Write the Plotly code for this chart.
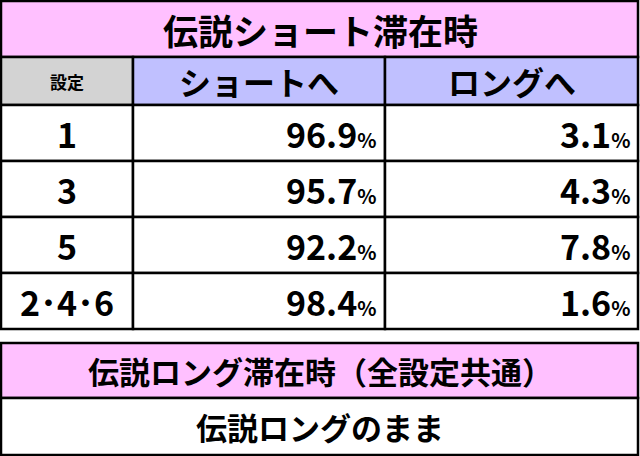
import plotly.graph_objects as go

title_top = "伝説ショート滞在時"
headers = ["設定", "ショートへ", "ロングへ"]
settings = ["1", "3", "5", "2･4･6"]
to_short = [96.9, 95.7, 92.2, 98.4]
to_long = [3.1, 4.3, 7.8, 1.6]
title_bottom = "伝説ロング滞在時（全設定共通）"
bottom_text = "伝説ロングのまま"

PINK = "#ffc0ff"
GRAY = "#d3d3d3"
LAV = "#c0c0ff"
FONT = "Noto Sans CJK JP"

cols = [1, 133, 385, 638]
rows = [1, 57, 105, 161, 217, 273, 329]
low = [343, 398, 455]

fig = go.Figure()
shapes = []
ann = []

def cell(x0, x1, y0, y1, fill):
    shapes.append(dict(type="rect", x0=x0, x1=x1, y0=y0, y1=y1, fillcolor=fill,
                       line=dict(color="black", width=2.5), layer="below"))

def text(x, y, s, size, anchor="center"):
    ann.append(dict(x=x, y=y, text=s, showarrow=False, xanchor=anchor, yanchor="middle",
                    font=dict(family=FONT, size=size, color="black", weight=900)))

cell(cols[0], cols[3], rows[0], rows[1], PINK)
text(320, 29, "<b>" + title_top + "</b>", 35)
for i, h in enumerate(headers):
    cell(cols[i], cols[i + 1], rows[1], rows[2], GRAY if i == 0 else LAV)
    text((cols[i] + cols[i + 1]) / 2, (rows[1] + rows[2]) / 2, "<b>" + h + "</b>", 17 if i == 0 else 32)

pct = "<span style='font-size:20px'>%</span>"
for r, (s, a, b) in enumerate(zip(settings, to_short, to_long)):
    y0, y1 = rows[r + 2], rows[r + 3]
    ym = (y0 + y1) / 2
    for i in range(3):
        cell(cols[i], cols[i + 1], y0, y1, "white")
    text((cols[0] + cols[1]) / 2, ym, "<b>" + s + "</b>", 34)
    text(cols[2] - 6, ym, f"<b>{a:.1f}{pct}</b>", 34, "right")
    text(cols[3] - 6, ym, f"<b>{b:.1f}{pct}</b>", 34, "right")

cell(cols[0], cols[3], low[0], low[1], PINK)
text(320, (low[0] + low[1]) / 2, "<b>" + title_bottom + "</b>", 31)
cell(cols[0], cols[3], low[1], low[2], "white")
text(320, (low[1] + low[2]) / 2, "<b>" + bottom_text + "</b>", 31)

fig.update_layout(
    width=640, height=456, margin=dict(l=0, r=0, t=0, b=0),
    plot_bgcolor="white", paper_bgcolor="white",
    xaxis=dict(range=[0, 640], visible=False, fixedrange=True),
    yaxis=dict(range=[456, 0], visible=False, fixedrange=True),
    shapes=shapes, annotations=ann, showlegend=False,
)
fig.write_html("out.html", post_script="document.body.style.margin='0';",
               config={"displayModeBar": False})
